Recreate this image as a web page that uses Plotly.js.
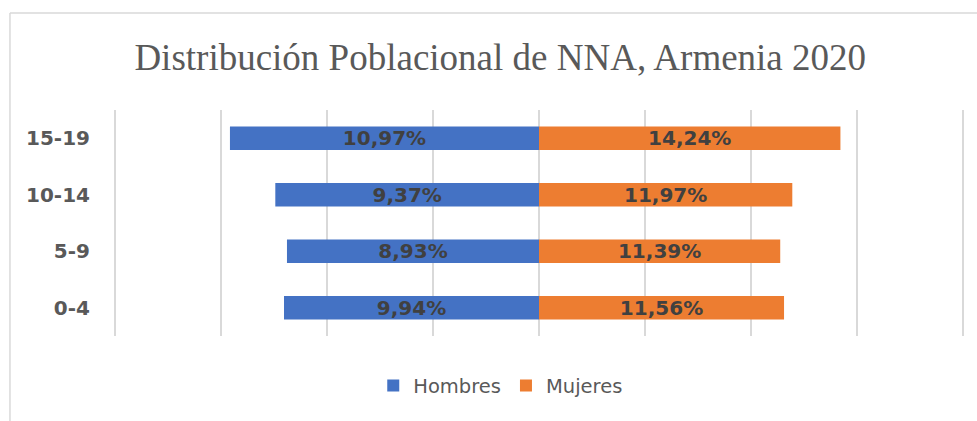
<!DOCTYPE html>
<html>
<head>
<meta charset="utf-8">
<script src="https://cdn.plot.ly/plotly-3.0.1.min.js"></script>
<style>html,body{margin:0;padding:0;background:#fff;}#chart{width:977px;height:421px;}</style>
</head>
<body>
<div id="chart"></div>
<script>
// Data
const grupos = ['0-4', '5-9', '10-14', '15-19'];
const hombresBarra = [12.03, 11.89, 12.44, 14.58];   // drawn bar lengths (left side)
const mujeresBarra = [11.56, 11.38, 11.95, 14.22];   // drawn bar lengths (right side)
const hombresEtiqueta = ['9,94%', '8,93%', '9,37%', '10,97%'];
const mujeresEtiqueta = ['11,56%', '11,39%', '11,97%', '14,24%'];

const labelFont = {family: 'DejaVu Sans', size: 20, color: '#404040', weight: 'bold'};

const traces = [
  {
    type: 'bar', orientation: 'h', name: 'Hombres',
    y: grupos, x: hombresBarra.map(v => -v),
    text: hombresEtiqueta, textposition: 'inside', insidetextanchor: 'middle',
    constraintext: 'none', textangle: 0, textfont: labelFont,
    marker: {color: '#4472C4'}, hoverinfo: 'skip'
  },
  {
    type: 'bar', orientation: 'h', name: 'Mujeres',
    y: grupos, x: mujeresBarra,
    text: mujeresEtiqueta, textposition: 'inside', insidetextanchor: 'middle',
    constraintext: 'none', textangle: 0, textfont: labelFont,
    marker: {color: '#ED7D31'}, hoverinfo: 'skip'
  }
];

const layout = {
  width: 977, height: 421,
  margin: {l: 114, r: 13, t: 110, b: 85},
  paper_bgcolor: '#ffffff', plot_bgcolor: '#ffffff',
  barmode: 'relative', bargap: 0.585,
  title: {
    text: 'Distribución Poblacional de NNA, Armenia 2020',
    font: {family: 'Liberation Serif', size: 37, color: '#595959'},
    x: 0.512, xref: 'container', xanchor: 'center',
    y: 0.865, yref: 'container', yanchor: 'middle'
  },
  xaxis: {
    range: [-20.05, 20.05], dtick: 5, tick0: 0,
    showgrid: true, gridcolor: '#D9D9D9', gridwidth: 1.5,
    zeroline: false, showticklabels: false, ticks: '', showline: false, fixedrange: true
  },
  yaxis: {
    type: 'category', categoryorder: 'array', categoryarray: grupos,
    showgrid: false, zeroline: false, showline: false, ticks: '',
    ticklabelstandoff: 23,
    tickfont: {family: 'DejaVu Sans', size: 20, color: '#595959', weight: 'bold'},
    fixedrange: true
  },
  showlegend: true,
  legend: {
    orientation: 'h', x: 0.455, xanchor: 'center', y: -0.221, yanchor: 'middle',
    font: {family: 'DejaVu Sans', size: 19.5, color: '#595959'},
    bgcolor: 'rgba(0,0,0,0)'
  },
  shapes: [
    {type: 'line', xref: 'paper', yref: 'paper', x0: -0.1224, x1: -0.1224, y0: -0.38, y1: 1.429,
     line: {color: '#D9D9D9', width: 1.5}},
    {type: 'line', xref: 'paper', yref: 'paper', x0: -0.1224, x1: 1.02, y0: 1.429, y1: 1.429,
     line: {color: '#D9D9D9', width: 1.5}}
  ]
};

Plotly.newPlot('chart', traces, layout, {displayModeBar: false, staticPlot: true});
</script>
</body>
</html>
